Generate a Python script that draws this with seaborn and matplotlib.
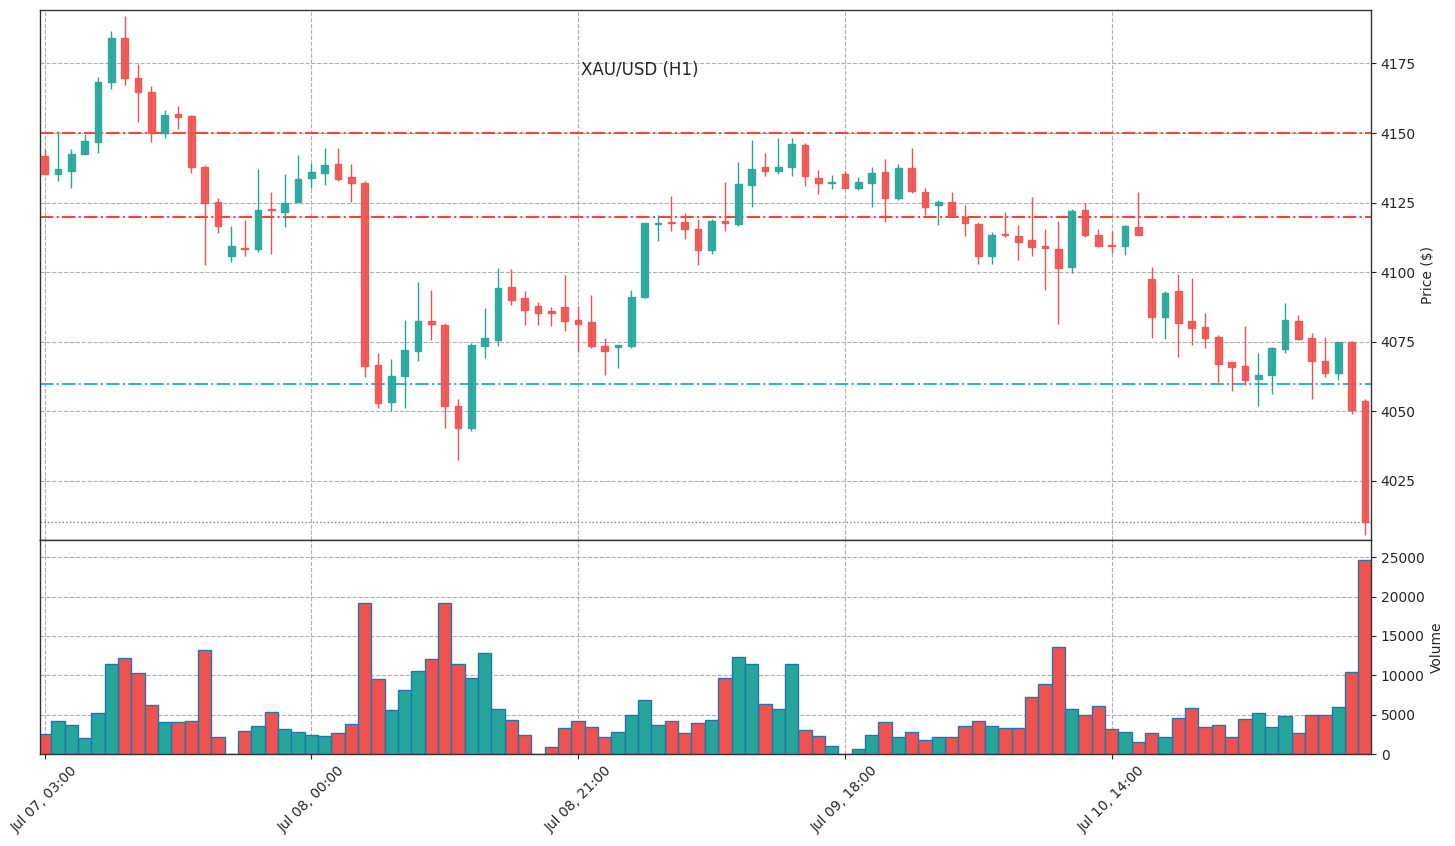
import numpy as np
import pandas as pd
import matplotlib
matplotlib.use("Agg")
import matplotlib.pyplot as plt
import seaborn as sns

# ---------------- data ----------------
opens = [4141.6, 4135.2, 4136.5, 4142.3, 4146.9, 4168.4, 4184.0, 4169.6, 4164.9, 4150.1,
         4156.8, 4156.0, 4137.8, 4125.2, 4106.0, 4108.8, 4108.3, 4122.8, 4121.8, 4125.1,
         4134.0, 4135.8, 4138.8, 4134.2, 4132.1, 4066.6, 4053.3, 4062.8, 4071.7, 4082.3,
         4080.9, 4051.8, 4044.2, 4073.5, 4075.7, 4094.8, 4090.6, 4087.7, 4086.2, 4087.4,
         4083.0, 4082.0, 4073.4, 4073.3, 4073.5, 4091.0, 4117.4, 4117.9, 4118.0, 4115.5,
         4107.9, 4118.5, 4117.2, 4131.2, 4137.8, 4136.5, 4137.7, 4145.6, 4133.8, 4132.1,
         4135.2, 4130.4, 4132.2, 4135.9, 4126.5, 4137.4, 4128.8, 4124.0, 4125.2, 4120.0,
         4117.4, 4106.0, 4113.9, 4113.0, 4111.4, 4109.5, 4108.2, 4101.8, 4122.3, 4113.4,
         4109.8, 4109.3, 4116.2, 4097.7, 4084.0, 4093.1, 4082.5, 4080.4, 4076.7, 4067.9,
         4066.2, 4061.7, 4063.1, 4072.4, 4082.5, 4076.2, 4068.2, 4063.8, 4075.0, 4053.9]
highs = [4144.4, 4150.6, 4144.4, 4149.7, 4170.0, 4186.7, 4192.1, 4174.9, 4166.8, 4158.4,
         4159.7, 4156.5, 4138.4, 4126.5, 4116.7, 4118.7, 4137.0, 4128.9, 4135.2, 4142.0,
         4139.1, 4144.5, 4144.5, 4138.8, 4132.7, 4071.1, 4068.9, 4082.9, 4096.6, 4093.7,
         4081.9, 4054.3, 4074.4, 4087.0, 4101.6, 4101.2, 4093.3, 4089.4, 4087.4, 4099.1,
         4087.7, 4091.8, 4076.2, 4073.8, 4093.7, 4117.6, 4120.7, 4127.3, 4121.1, 4119.0,
         4119.2, 4132.4, 4139.6, 4147.4, 4142.8, 4148.1, 4148.1, 4146.5, 4136.7, 4134.9,
         4136.4, 4134.2, 4137.8, 4140.6, 4138.9, 4144.5, 4130.1, 4125.8, 4128.9, 4124.1,
         4118.0, 4114.5, 4121.7, 4117.0, 4127.0, 4115.5, 4118.5, 4122.7, 4124.8, 4115.5,
         4114.8, 4117.0, 4128.9, 4101.9, 4093.1, 4099.3, 4098.1, 4085.4, 4077.3, 4067.9,
         4080.6, 4071.1, 4073.2, 4089.1, 4084.7, 4078.2, 4076.7, 4075.0, 4075.4, 4054.3]
lows = [4135.2, 4132.7, 4130.4, 4142.3, 4142.8, 4165.9, 4167.2, 4154.1, 4146.6, 4148.1,
        4151.6, 4135.8, 4102.7, 4114.0, 4103.5, 4106.0, 4107.2, 4106.4, 4116.2, 4125.1,
        4130.4, 4131.2, 4132.7, 4125.2, 4062.2, 4051.4, 4050.1, 4051.4, 4068.2, 4075.7,
        4043.9, 4032.5, 4043.0, 4069.3, 4073.5, 4088.2, 4081.1, 4081.1, 4080.6, 4079.0,
        4071.2, 4072.8, 4063.2, 4065.7, 4072.8, 4090.6, 4111.3, 4114.8, 4112.1, 4102.6,
        4106.4, 4114.9, 4116.6, 4123.3, 4134.4, 4135.2, 4134.4, 4130.8, 4128.0, 4129.8,
        4130.4, 4129.7, 4123.3, 4118.0, 4125.8, 4128.6, 4120.7, 4117.0, 4120.2, 4113.0,
        4103.0, 4103.0, 4112.8, 4104.3, 4105.8, 4093.7, 4081.5, 4099.8, 4112.8, 4108.9,
        4106.8, 4106.2, 4113.3, 4076.5, 4075.9, 4069.4, 4074.0, 4072.6, 4060.4, 4057.5,
        4059.5, 4051.8, 4056.4, 4071.1, 4075.7, 4054.5, 4062.3, 4061.3, 4048.9, 4005.6]
closes = [4135.4, 4137.0, 4142.4, 4147.0, 4168.5, 4184.0, 4169.9, 4164.8, 4149.9, 4156.3,
          4155.6, 4137.7, 4125.0, 4116.5, 4109.4, 4108.5, 4122.3, 4122.2, 4124.8, 4133.4,
          4135.9, 4138.4, 4133.5, 4131.9, 4066.3, 4052.9, 4062.8, 4072.2, 4082.5, 4081.4,
          4051.8, 4043.9, 4073.8, 4076.3, 4094.2, 4090.0, 4086.4, 4085.4, 4085.4, 4082.5,
          4081.4, 4073.5, 4071.7, 4073.7, 4091.2, 4117.6, 4117.6, 4117.6, 4115.4, 4107.9,
          4118.4, 4117.6, 4131.7, 4137.0, 4136.2, 4137.8, 4146.1, 4134.4, 4132.2, 4132.4,
          4130.4, 4132.4, 4135.5, 4126.8, 4137.4, 4129.3, 4123.6, 4125.2, 4120.2, 4117.6,
          4106.0, 4113.4, 4113.3, 4110.8, 4108.9, 4108.8, 4101.4, 4122.1, 4113.3, 4109.3,
          4109.4, 4116.6, 4113.3, 4084.0, 4092.7, 4081.9, 4080.0, 4076.5, 4067.2, 4066.1,
          4061.4, 4063.0, 4072.7, 4082.9, 4076.0, 4068.2, 4063.8, 4075.0, 4050.5, 4010.1]
volumes = [2513, 4174, 3663, 2002, 5196, 11457, 12223, 10307, 6218, 4046,
           4046, 4174, 13245, 2130, 0, 2896, 3535, 5324, 3152, 2768,
           2385, 2257, 2641, 3790, 19251, 9540, 5579, 8135, 10562, 12096,
           19251, 11457, 9711, 12862, 5707, 4302, 2385, 0, 937, 3279,
           4174, 3407, 2215, 2768, 4940, 6857, 3663, 4174, 2641, 3918,
           4302, 9668, 12351, 11457, 6346, 5707, 11457, 3024, 2257, 980,
           0, 596, 2385, 4046, 2130, 2768, 1746, 2130, 2130, 3535,
           4174, 3535, 3279, 3279, 7240, 8901, 13629, 5707, 4940, 6090,
           3152, 2768, 1491, 2641, 2130, 4557, 5835, 3407, 3663, 2130,
           4429, 5196, 3407, 4855, 2641, 4940, 4940, 5963, 10435, 24617]

tick_positions = [0, 20, 40, 60, 80]
tick_labels = ["Jul 07, 03:00", "Jul 08, 00:00", "Jul 08, 21:00", "Jul 09, 18:00", "Jul 10, 14:00"]
resistance_levels = [4150, 4120]
support_levels = [4060]
title = "XAU/USD (H1)"

# ---------------- style ----------------
UP = "#26a69a"
DOWN = "#ef5350"
sns.set_style("white")
plt.rcParams["font.family"] = ["DejaVu Sans"]

o = np.array(opens); h = np.array(highs); l = np.array(lows); c = np.array(closes)
idx = np.arange(len(o))
direction = np.where(c >= o, "up", "down")
cols = [UP if d == "up" else DOWN for d in direction]

df = pd.DataFrame({"idx": idx, "volume": volumes, "dir": direction})

fig = plt.figure(figsize=(14.55, 8.46), dpi=100)
L, R = 40 / 1455, 1371 / 1455
ax = fig.add_axes([L, 1 - 540 / 846, R - L, (540 - 10) / 846])
axv = fig.add_axes([L, 1 - 754 / 846, R - L, (754 - 540) / 846], sharex=ax)

grid_kw = dict(color="#b0b0b0", linestyle="--", linewidth=0.8)

# candles
ax.vlines(idx, l, h, colors=cols, linewidth=1.0, zorder=3)
ax.bar(idx, c - o, bottom=o, width=0.5, color=cols, edgecolor=cols,
       linewidth=1.0, alpha=0.92, zorder=4)

for lv in resistance_levels:
    ax.axhline(lv, color="#ff4040", linestyle="-.", linewidth=1.5, zorder=2)
for lv in support_levels:
    ax.axhline(lv, color="#33b1e0", linestyle="-.", linewidth=1.5, zorder=2)
ax.axhline(closes[-1], color="#808080", linestyle=":", linewidth=1.0, zorder=2)

ax.set_ylim(4003.8, 4194.2)
ax.set_yticks([4025, 4050, 4075, 4100, 4125, 4150, 4175])
ax.yaxis.tick_right()
ax.yaxis.set_label_position("right")
ax.set_ylabel("Price ($)", fontsize=10)
ax.grid(True, **grid_kw)
ax.set_axisbelow(True)
ax.tick_params(axis="x", which="both", length=0, labelbottom=False)

# volume
sns.barplot(data=df, x="idx", y="volume", hue="dir", palette={"up": UP, "down": DOWN},
            dodge=False, width=1.0, edgecolor="#1f77b4", linewidth=1.0,
            saturation=1, errorbar=None, legend=False, ax=axv)
axv.set_ylim(0, 27200)
axv.set_yticks([0, 5000, 10000, 15000, 20000, 25000])
axv.yaxis.tick_right()
axv.yaxis.set_label_position("right")
axv.set_ylabel("Volume", fontsize=10)
axv.set_xlabel("")
axv.grid(True, **grid_kw)
axv.set_axisbelow(True)

axv.set_xlim(-0.35, 99.45)
axv.set_xticks(tick_positions)
axv.set_xticklabels(tick_labels, rotation=45)
ax.set_xticks(tick_positions)

for a in (ax, axv):
    for s in a.spines.values():
        s.set_color("#333333")
        s.set_linewidth(1.0)
        s.set_visible(True)
    a.tick_params(axis="y", length=3.5, labelsize=10)
axv.tick_params(axis="x", length=3.5, labelsize=10, bottom=True)

fig.text(581 / 1455, 1 - 70 / 846, title, fontsize=12, ha="left", va="center")

fig.savefig("out.png", dpi=100)
